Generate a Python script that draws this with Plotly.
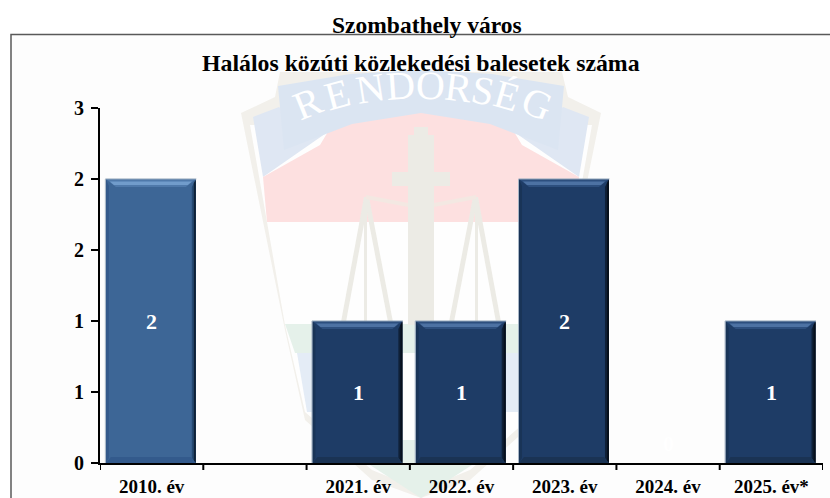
import plotly.graph_objects as go

categories = ["2010. év", " ", "2021. év", "2022. év", "2023. év", "2024. év", "2025. év*"]
values = [2, None, 1, 1, 2, 0, 1]
bar_colors = ["#3d6696", "#1f3d66", "#1e3c66", "#1e3c66", "#1e3c66", "#1e3c66", "#1e3c66"]
y_ticks = [0, 0.5, 1, 1.5, 2, 2.5]
y_labels = ["0", "1", "1", "2", "2", "3"]
chart_title = "Halálos közúti közlekedési balesetek száma"
page_title = "Szombathely város"
FONT = "Liberation Serif"

W, H = 830, 498
L, R, T, B = 100, 823, 108, 463
Y_MAX = 2.5
BAR_WIDTH = 0.871
MID = 421


def px(v):
    return (v - L) / (R - L)


def py(v):
    return (B - v) / (B - T)


def poly(points, fill, opacity=1.0):
    d = "M" + " L".join(f"{px(x):.5f},{py(y):.5f}" for x, y in points) + " Z"
    return dict(type="path", xref="paper", yref="paper", path=d, fillcolor=fill,
                line=dict(width=0), opacity=opacity, layer="below")


def both(points, fill):
    return [poly(points, fill), poly([(2 * MID - x, y) for x, y in points], fill)]


BEIGE = "#f2f0eb"
crest = [
    poly([(241, 113), (275, 97), (280, 72), (562, 72), (568, 97), (601, 113), (557, 330), (537, 420),
          (470, 480), (421, 498), (372, 480), (305, 420), (285, 330)], BEIGE),
    poly([(250, 125), (592, 125), (575, 222), (557, 325), (537, 412), (470, 470), (421, 490),
          (372, 470), (305, 412), (285, 325), (267, 222)], "#fefefe"),
]
crest += both([(253, 117), (279, 107), (300, 125), (345, 120), (263, 177)], "#dfe7f3")
crest += [
    poly([(263, 177), (320, 145), (335, 120), (421, 100), (507, 120), (522, 145), (579, 177), (575, 222), (267, 222)], "#fde0e0"),
    poly([(278, 86), (350, 74), (421, 70), (492, 74), (564, 86), (558, 150), (490, 124), (421, 113), (352, 124), (284, 150)], "#dbe5f2"),
    poly([(285, 324), (557, 324), (547, 353), (295, 353)], "#e5f1ea"),
    poly([(370, 465), (421, 498), (472, 465), (445, 440), (397, 440)], "#e5f1ea"),
]
crest += both([(297, 353), (345, 353), (345, 412), (307, 412)], "#e4ecf6")
crest += [
    poly([(408, 135), (434, 135), (434, 325), (408, 325)], "#ecebe5"),
    poly([(414, 127), (428, 127), (428, 150), (414, 150)], "#ecebe5"),
    poly([(392, 172), (450, 172), (450, 186), (392, 186)], "#ecebe5"),
]
crest += both([(364, 197), (369, 197), (393, 322), (388, 322)], "#ecebe5")
crest += both([(364, 197), (369, 197), (346, 322), (341, 322)], "#ecebe5")
crest += both([(364, 197), (367, 197), (367, 322), (364, 322)], "#ecebe5")
crest += both([(366, 195), (408, 203), (408, 207), (366, 199)], "#f3e8e2")

letters = [("R", 307, 103, -22), ("E", 337, 94, -15), ("N", 370, 88, -9), ("D", 400, 85, -4),
           ("O", 430, 85, 2), ("R", 458, 87, 7), ("S", 483, 90, 11), ("É", 507, 95, 16), ("G", 537, 103, 22)]
crest_text = [dict(text=c, x=px(x), y=py(y), xref="paper", yref="paper", showarrow=False,
                   xanchor="center", yanchor="middle", textangle=a,
                   font=dict(family=FONT, size=40, color="#ffffff"))
              for c, x, y, a in letters]

# Bevels are derived from the same values and categories as the bars.
bevels = []
unit_x = (R - L) / len(categories)
unit_y = (B - T) / Y_MAX
for i, v in enumerate(values):
    if not v:
        continue
    first = i == 0
    cx = L + (i + 0.5) * unit_x - 0.8
    half = BAR_WIDTH * unit_x / 2
    x0, x1 = cx - half, cx + half
    y1 = B - v * unit_y
    bevels += [
        poly([(x0, y1), (x1, y1), (x1 - 10, y1 + 8), (x0 + 10, y1 + 8)], "#4f79aa" if first else "#2d4f7e"),
        poly([(x0 + 4, y1 + 2.5), (x1 - 4, y1 + 2.5), (x1 - 8, y1 + 6), (x0 + 8, y1 + 6)], "#719ccb" if first else "#4d72a3"),
        poly([(x1, y1), (x1, B), (x1 - 4, B - 5), (x1 - 4, y1 + 8)], "#264a72" if first else "#0f2037"),
        poly([(x1, y1 + 1), (x1, B), (x1 - 2, B - 2), (x1 - 2, y1 + 4)], "#0f2238" if first else "#07101c"),
        poly([(x0, y1), (x0, B), (x0 + 3, B - 5), (x0 + 3, y1 + 7)], "#33598a" if first else "#193457"),
        poly([(x0, B), (x1, B), (x1 - 5, B - 6), (x0 + 5, B - 6)], "#335a8c" if first else "#1a3354"),
        poly([(x0 - 0.5, y1 - 0.5), (x1 + 0.5, y1 - 0.5), (x1 + 0.5, y1 + 0.5), (x0 - 0.5, y1 + 0.5)], "#8fa3b8"),
        poly([(x0 - 1, y1), (x0, y1), (x0, B), (x0 - 1, B)], "#a8b6c6"),
    ]
for s in bevels:
    s["layer"] = "above"

frame = dict(type="rect", xref="paper", yref="paper", x0=px(11), x1=px(W + 5), y0=py(H + 5), y1=py(34.5),
             line=dict(color="#595959", width=1.5), fillcolor="#fdfdfd", layer="below")

labels = [dict(x=c, y=v / 2, text=f"<b>{v}</b>", showarrow=False, xref="x", yref="y",
               font=dict(family=FONT, size=22, color="#ffffff"))
          for c, v in zip(categories, values) if v]
labels += [dict(x=c, y=0, text="<b>0</b>", showarrow=False, xref="x", yref="y", yshift=20,
                font=dict(family=FONT, size=22, color="#ffffff"))
           for c, v in zip(categories, values) if v == 0]
titles = [
    dict(text=f"<b>{page_title}</b>", x=px(426.5), y=py(25), xref="paper", yref="paper", showarrow=False,
         yanchor="middle", font=dict(family=FONT, size=23.5, color="#000000")),
    dict(text=f"<b>{chart_title}</b>", x=px(421), y=py(63), xref="paper", yref="paper", showarrow=False,
         yanchor="middle", font=dict(family=FONT, size=23.8, color="#000000")),
]

fig = go.Figure(go.Bar(
    x=categories, y=[v if v else 0 for v in values], width=BAR_WIDTH, offset=-BAR_WIDTH / 2 - 0.008,
    marker=dict(color=bar_colors, line=dict(width=0)), hoverinfo="skip",
))
fig.update_layout(
    width=W, height=H, autosize=False, showlegend=False,
    margin=dict(l=L, r=W - R, t=T, b=H - B, pad=0),
    paper_bgcolor="#ffffff", plot_bgcolor="rgba(0,0,0,0)",
    font=dict(family=FONT, color="#000000"),
    shapes=[frame] + crest + bevels,
    annotations=crest_text + titles + labels,
    xaxis=dict(type="category", categoryorder="array", categoryarray=categories, range=[-0.5, 6.5],
               automargin=False,
               showline=True, linecolor="#000000", linewidth=2, showgrid=False, zeroline=False,
               ticks="", tickvals=categories, ticktext=[f"<b>{c}</b>" for c in categories],
               tickfont=dict(family=FONT, size=19, color="#000000"), ticklabelstandoff=5),
    yaxis=dict(range=[0, Y_MAX], tickvals=y_ticks, ticktext=[f"<b>{t}</b>" for t in y_labels],
               automargin=False,
               showline=True, linecolor="#000000", linewidth=2, showgrid=False, zeroline=False,
               ticks="outside", ticklen=7, tickwidth=2, tickcolor="#000000", ticklabelstandoff=3,
               tickfont=dict(family=FONT, size=20, color="#000000")),
)
# Category boundary ticks on the x axis
for i in range(len(categories) + 1):
    fig.add_shape(type="line", xref="x", yref="paper", x0=i - 0.5, x1=i - 0.5, y0=0, y1=py(B + 7),
                  line=dict(color="#000000", width=2), layer="above")
fig.write_html("out.html", post_script="document.body.style.margin='0';", config=dict(displayModeBar=False))
